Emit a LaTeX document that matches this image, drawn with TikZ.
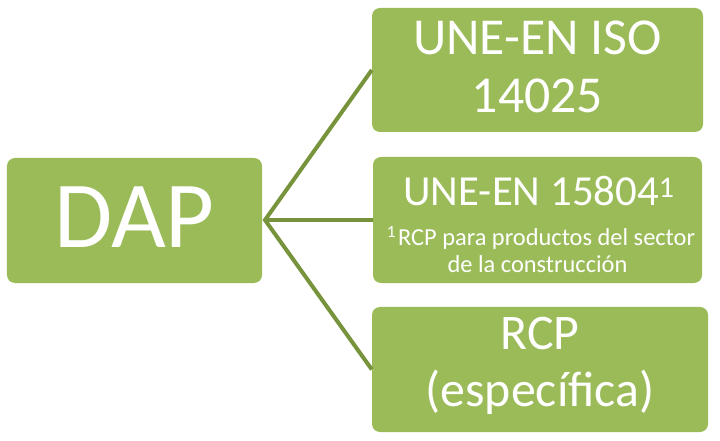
\documentclass[tikz,border=0pt]{standalone}
\usepackage{fontspec}
\setmainfont{Carlito}
\definecolor{boxg}{HTML}{9BBB59}
\definecolor{lineg}{HTML}{77933C}
\begin{document}
\begin{tikzpicture}[x=1bp,y=-1bp]
\tikzset{
  box/.style={fill=boxg, draw=none, rounded corners=8bp, inner sep=0pt},
  link/.style={draw=lineg, line width=4bp},
  txt/.style={text=white, inner sep=0pt, anchor=base},
}
\useasboundingbox (0,0) rectangle (720,441);
\node[box, minimum width=255bp, minimum height=125bp] (dap) at (134.5,220.5) {};
\node[box, minimum width=331bp, minimum height=124bp] (iso) at (537.5,70) {};
\node[box, minimum width=329bp, minimum height=126bp] (une) at (537.5,220) {};
\node[box, minimum width=336bp, minimum height=125bp] (rcp) at (540,369.5) {};
\coordinate (hub) at (265,220);
\draw[link] (iso.west) -- (hub) -- (rcp.west);
\draw[link] (hub) -- (une.west);
\node[txt, font=\fontsize{95}{100}\selectfont] (dapt) at (134.5,248) {DAP};
\node[txt, font=\fontsize{52}{60}\selectfont] (iso1) at (537.5,55) {UNE-EN ISO};
\node[txt, font=\fontsize{52}{60}\selectfont] (iso2) at (537.5,113) {14025};
\node[txt, font=\fontsize{43}{50}\selectfont] (une1) at (539,206) {UNE-EN 15804\textsuperscript{1}};
\node[txt, font=\fontsize{24.5}{28}\selectfont] (une2) at (541,246) {\textsuperscript{1}\kern2bp RCP para productos del sector};
\node[txt, font=\fontsize{24.5}{28}\selectfont] (une3) at (537.5,273) {de la construcción};
\node[txt, font=\fontsize{50}{58}\selectfont] (rcp1) at (540,350) {RCP};
\node[txt, font=\fontsize{50}{58}\selectfont] (rcp2) at (540,406) {(específica)};
\end{tikzpicture}
\end{document}
